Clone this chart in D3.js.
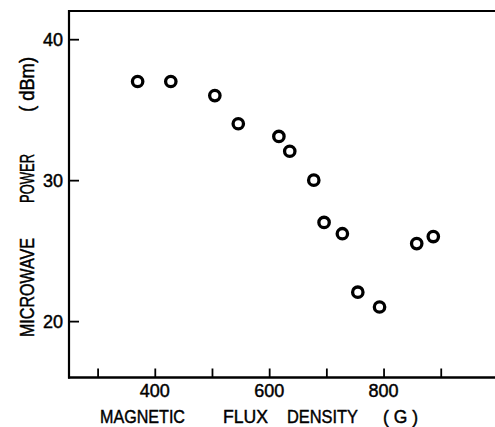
<!DOCTYPE html>
<html>
<head>
<meta charset="utf-8">
<script src="https://cdn.jsdelivr.net/npm/d3@7"></script>
<style>
html,body{margin:0;padding:0;background:#fff;}
svg{display:block;}
text{font-family:"Liberation Sans",Arial,sans-serif;fill:#000;stroke:#000;stroke-width:0.45px;}
</style>
</head>
<body>
<svg id="chart" width="495" height="427"></svg>
<script>
// Data
const fluxDensity = [370, 428, 505, 546, 617, 636, 678, 696, 728, 755, 793, 858, 887];
const microwavePower = [37.0, 37.0, 36.0, 34.0, 33.1, 32.05, 30.0, 27.0, 26.2, 22.05, 21.0, 25.5, 26.0];
const xTickValues = [300, 400, 500, 600, 700, 800, 900];
const xTickLabels = ["", "400", "", "600", "", "800", ""];
const yTickValues = [20, 30, 40];
const yTickLabels = ["20", "30", "40"];
const xTitleWords = ["MAGNETIC", "FLUX", "DENSITY", "( G )"];
const yTitleWords = ["MICROWAVE", "POWER", "( dBm)"];

const svg = d3.select("#chart");
const plotLeft = 69, plotTop = 11, plotBottom = 377.5;
const x = d3.scaleLinear().domain([250, 1000]).range([plotLeft, plotLeft + 750 * 0.5719]);
const y = d3.scaleLinear().domain([16, 42]).range([plotBottom, plotTop]);

// frame: top, left, bottom (no right border)
svg.append("line").attr("x1", plotLeft).attr("x2", 495).attr("y1", plotTop).attr("y2", plotTop)
  .attr("stroke", "#000").attr("stroke-width", 2.2);
svg.append("line").attr("x1", plotLeft).attr("x2", plotLeft).attr("y1", plotTop - 1).attr("y2", plotBottom + 1)
  .attr("stroke", "#000").attr("stroke-width", 2.2);
svg.append("line").attr("x1", plotLeft - 1).attr("x2", 495).attr("y1", plotBottom).attr("y2", plotBottom)
  .attr("stroke", "#000").attr("stroke-width", 2.4);

// x axis ticks (inward)
const xAxis = d3.axisTop(x).tickValues(xTickValues).tickSize(9).tickFormat(() => "");
const gx = svg.append("g").attr("transform", `translate(0,${plotBottom})`).call(xAxis);
gx.select(".domain").remove();
gx.selectAll(".tick line").attr("stroke", "#000").attr("stroke-width", 1.8);
svg.append("g").selectAll("text").data(xTickValues).join("text")
  .attr("x", d => x(d)).attr("y", 397)
  .attr("text-anchor", "middle").attr("font-size", 18)
  .text((d, i) => xTickLabels[i]);

// y axis ticks (inward)
const yAxis = d3.axisRight(y).tickValues(yTickValues).tickSize(10).tickFormat(() => "");
const gy = svg.append("g").attr("transform", `translate(${plotLeft},0)`).call(yAxis);
gy.select(".domain").remove();
gy.selectAll(".tick line").attr("stroke", "#000").attr("stroke-width", 1.8);
svg.append("g").selectAll("text").data(yTickValues).join("text")
  .attr("x", 63).attr("y", d => y(d) + 6.5)
  .attr("text-anchor", "end").attr("font-size", 18)
  .text((d, i) => yTickLabels[i]);

// x title words
const xWordPos = [[100, 85], [223, 45], [287, 71], [383, 35]];
svg.append("g").selectAll("text").data(xTitleWords).join("text")
  .attr("x", (d, i) => xWordPos[i][0]).attr("y", 423)
  .attr("font-size", 19)
  .attr("textLength", (d, i) => xWordPos[i][1]).attr("lengthAdjust", "spacingAndGlyphs")
  .text(d => d);

// y title words (rotated)
const yWordPos = [[337, 99], [203, 49], [112, 55]];
svg.append("g").selectAll("text").data(yTitleWords).join("text")
  .attr("transform", (d, i) => `translate(33.5,${yWordPos[i][0]}) rotate(-90)`)
  .attr("font-size", 20)
  .attr("textLength", (d, i) => yWordPos[i][1]).attr("lengthAdjust", "spacingAndGlyphs")
  .text(d => d);

// data points
svg.append("g").selectAll("circle").data(fluxDensity).join("circle")
  .attr("cx", d => x(d)).attr("cy", (d, i) => y(microwavePower[i]))
  .attr("r", 5.2).attr("fill", "none").attr("stroke", "#000").attr("stroke-width", 3.3);
</script>
</body>
</html>
